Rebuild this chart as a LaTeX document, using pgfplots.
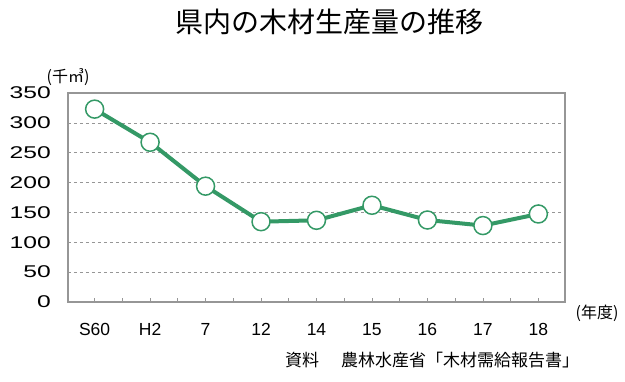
\documentclass[border=0pt]{standalone}
\usepackage{fontspec}
\usepackage{pgfplots}
\pgfplotsset{compat=1.18}
\setmainfont{Liberation Sans}
\newfontfamily\jp{Noto Sans CJK JP}
\newfontfamily\jpl{Noto Sans CJK JP Light}
\newfontfamily\ylab[FakeStretch=1.45]{Liberation Sans}
\definecolor{lineg}{RGB}{52,153,102}
\definecolor{frameg}{RGB}{150,150,150}
\begin{document}
\begin{tikzpicture}
\useasboundingbox (0,0) rectangle (625bp,382bp);
\begin{axis}[
  at={(68bp,80bp)}, anchor=south west,
  scale only axis, width=497bp, height=209bp,
  xmin=-0.48, xmax=8.48, ymin=0, ymax=350,
  xtick={0,...,8},
  xticklabels={S60,H2,7,12,14,15,16,17,18},
  minor xtick={0.5,1.5,...,7.5},
  ytick={0,50,...,350},
  yticklabels={0,50,100,150,200,250,300,350},
  tick pos=left, tick align=inside,
  major tick length=4bp, minor tick length=4bp,
  xtick style={frameg, line width=0.8bp},
  minor x tick style={frameg, line width=0.8bp},
  ytick style={draw=none},
  ymajorgrids, grid style={frameg, dashed, line width=0.6bp},
  axis line style={frameg, line width=1.6bp},
  yticklabel style={font=\ylab\fontsize{17bp}{17bp}\selectfont, anchor=east, inner sep=0pt, xshift=-17bp},
  xticklabel style={font=\fontsize{17.5bp}{17bp}\selectfont, anchor=north, inner sep=0pt, yshift=-21bp},
  clip=false,
]
\addplot[lineg, line width=4bp, mark=*, mark size=9bp,
  mark options={fill=white, draw=lineg, line width=1.5bp}]
  coordinates {(0,323) (1,267.5) (2,194) (3,134.5) (4,136.8) (5,162) (6,137.3) (7,128) (8,147.4)};
\end{axis}
\node[font=\jp\fontsize{28bp}{30bp}\selectfont] at (329bp,360bp) {県内の木材生産量の推移};
\node[font=\jp\fontsize{16bp}{16bp}\selectfont] at (68bp,305bp) {(千㎥)};
\node[font=\jp\fontsize{16bp}{16bp}\selectfont] at (597bp,69bp) {(年度)};
\node[font=\jp\fontsize{17bp}{17bp}\selectfont, anchor=west, inner sep=0pt] at (285bp,22bp) {資料\hspace{22bp}農林水産省「木材需給報告書」};
\end{tikzpicture}
\end{document}
